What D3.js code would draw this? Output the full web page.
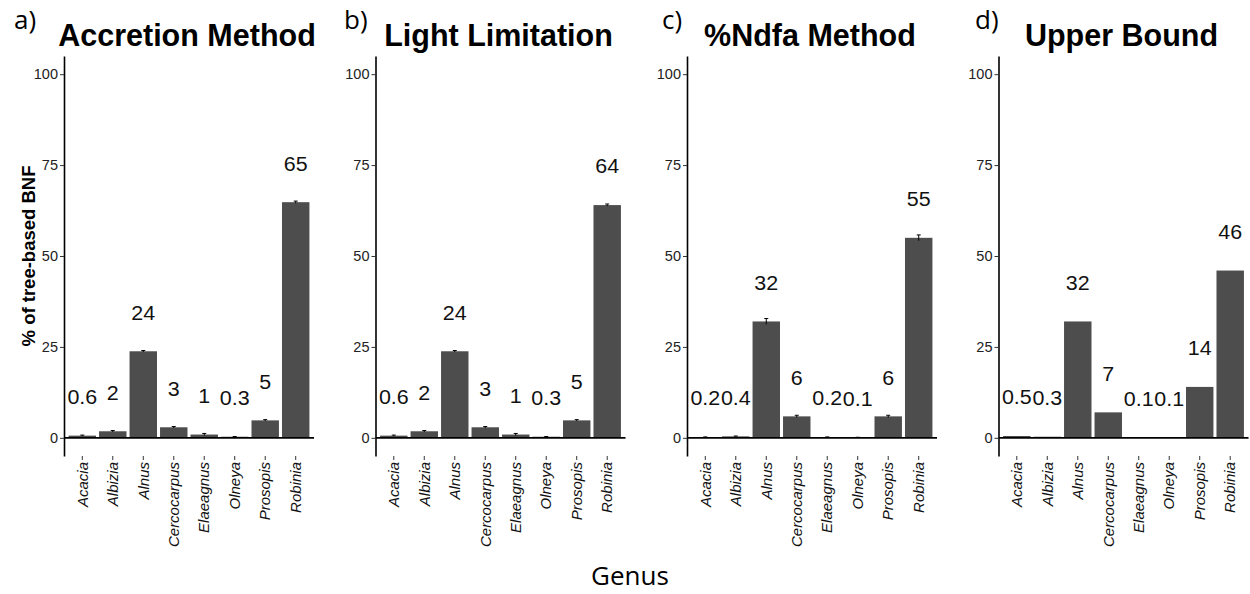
<!DOCTYPE html>
<html>
<head>
<meta charset="utf-8">
<script src="https://cdn.jsdelivr.net/npm/d3@7"></script>
<style>
  body { margin: 0; background: #fff; }
  svg { display: block; }
</style>
</head>
<body>
<div id="chart"></div>
<script>
"use strict";

// Data
const genera = ["Acacia", "Albizia", "Alnus", "Cercocarpus", "Elaeagnus", "Olneya", "Prosopis", "Robinia"];
const panelTags = ["a)", "b)", "c)", "d)"];
const panelTitles = ["Accretion Method", "Light Limitation", "%Ndfa Method", "Upper Bound"];
const yTicks = [0, 25, 50, 75, 100];

const accretionValues = [0.6, 1.8, 23.8, 2.9, 0.9, 0.3, 4.8, 64.8];
const accretionErrors = [0.15, 0.2, 0.2, 0.2, 0.3, 0.05, 0.2, 0.3];
const accretionLabels = ["0.6", "2", "24", "3", "1", "0.3", "5", "65"];

const lightValues = [0.6, 1.8, 23.8, 2.9, 0.9, 0.3, 4.8, 64.0];
const lightErrors = [0.15, 0.2, 0.2, 0.2, 0.3, 0.05, 0.2, 0.3];
const lightLabels = ["0.6", "2", "24", "3", "1", "0.3", "5", "64"];

const ndfaValues = [0.2, 0.4, 32.0, 5.9, 0.2, 0.1, 5.9, 55.0];
const ndfaErrors = [0.05, 0.1, 0.8, 0.3, 0.05, 0.05, 0.3, 0.8];
const ndfaLabels = ["0.2", "0.4", "32", "6", "0.2", "0.1", "6", "55"];

const upperValues = [0.5, 0.3, 32.0, 7.0, 0.1, 0.1, 14.0, 46.0];
const upperErrors = [0, 0, 0, 0, 0, 0, 0, 0];
const upperLabels = ["0.5", "0.3", "32", "7", "0.1", "0.1", "14", "46"];

const panelValues = [accretionValues, lightValues, ndfaValues, upperValues];
const panelErrors = [accretionErrors, lightErrors, ndfaErrors, upperErrors];
const panelLabels = [accretionLabels, lightLabels, ndfaLabels, upperLabels];

// Layout
const W = 1250, H = 594;
const PANEL_X0 = 64;
const PANEL_STEP = 311.5;
const PANEL_W = 250;
const PANEL_TOP = 56;
const PANEL_BOTTOM = 456;
const TAG_X = [14, 344, 662, 975];
const BAR_COLOR = "#4d4d4d";
const SANS = "'Liberation Sans', Arial, sans-serif";
const OPEN = "'Open Sans', 'Noto Sans', sans-serif";

var svg = d3.select("#chart").append("svg")
    .attr("width", W)
    .attr("height", H);

var y = d3.scaleLinear().domain([-5, 105]).range([PANEL_BOTTOM, PANEL_TOP]);

panelTitles.forEach(function (title, i) {

    var x0 = PANEL_X0 + i * PANEL_STEP;
    var g = svg.append("g").attr("transform", "translate(" + x0 + ",0)");

    var x = d3.scaleBand()
        .domain(genera)
        .range([0, PANEL_W])
        .paddingInner(0.1)
        .paddingOuter(0.15);

    var rows = genera.map(function (name, k) {
        return { name: name, value: panelValues[i][k], err: panelErrors[i][k], label: panelLabels[i][k] };
    });

    // bars
    g.selectAll("rect.bar")
        .data(rows)
        .enter().append("rect")
        .attr("class", "bar")
        .attr("x", function (d) { return x(d.name); })
        .attr("width", x.bandwidth())
        .attr("y", function (d) { return y(d.value); })
        .attr("height", function (d) { return y(0) - y(d.value); })
        .attr("fill", BAR_COLOR);

    // error bars
    var eb = g.selectAll("g.err")
        .data(rows.filter(function (d) { return d.err > 0; }))
        .enter().append("g")
        .attr("class", "err")
        .attr("stroke", "#000")
        .attr("stroke-width", 1);
    eb.append("line")
        .attr("x1", function (d) { return x(d.name) + x.bandwidth() / 2; })
        .attr("x2", function (d) { return x(d.name) + x.bandwidth() / 2; })
        .attr("y1", function (d) { return y(d.value + d.err); })
        .attr("y2", function (d) { return y(d.value - d.err); });
    eb.append("line")
        .attr("x1", function (d) { return x(d.name) + x.bandwidth() / 2 - 2; })
        .attr("x2", function (d) { return x(d.name) + x.bandwidth() / 2 + 2; })
        .attr("y1", function (d) { return y(d.value + d.err); })
        .attr("y2", function (d) { return y(d.value + d.err); });

    // value labels (slightly wide, like the original)
    g.selectAll("text.val")
        .data(rows)
        .enter().append("text")
        .attr("class", "val")
        .attr("transform", function (d) {
            return "translate(" + (x(d.name) + x.bandwidth() / 2) + "," + (y(d.value + 10.6) + 6.9) + ")scale(1.1,1)";
        })
        .attr("text-anchor", "middle")
        .attr("font-family", SANS)
        .attr("font-size", "19.5px")
        .attr("fill", "#111")
        .text(function (d) { return d.label; });

    // zero line
    g.append("line")
        .attr("x1", 0).attr("x2", PANEL_W)
        .attr("y1", y(0)).attr("y2", y(0))
        .attr("stroke", "#000")
        .attr("stroke-width", 1.7);

    // y axis
    var yAxis = d3.axisLeft(y).tickValues(yTicks).tickSize(4).tickSizeOuter(0).tickPadding(2);
    var ya = g.append("g").call(yAxis);
    ya.select(".domain").attr("stroke", "#000").attr("stroke-width", 1.6);
    ya.selectAll(".tick line").attr("stroke", "#333");
    ya.selectAll(".tick text")
        .attr("font-family", SANS)
        .attr("font-size", "14.5px")
        .attr("fill", "#222");

    // x axis
    var xAxis = d3.axisBottom(x).tickSize(4).tickSizeOuter(0).tickPadding(2);
    var xa = g.append("g")
        .attr("transform", "translate(0," + PANEL_BOTTOM + ")")
        .call(xAxis);
    xa.select(".domain").remove();
    xa.selectAll(".tick line").attr("stroke", "#333");
    xa.selectAll(".tick text")
        .attr("font-family", SANS)
        .attr("font-size", "15px")
        .attr("font-style", "italic")
        .attr("fill", "#111")
        .attr("text-anchor", "end")
        .attr("dy", "0.35em")
        .attr("transform", "translate(0,6)rotate(-90)")
        .attr("x", 0)
        .attr("y", 0);

    // title
    svg.append("text")
        .attr("x", x0 + PANEL_W / 2 - 2)
        .attr("y", 46)
        .attr("text-anchor", "middle")
        .attr("font-family", SANS)
        .attr("font-weight", "bold")
        .attr("font-size", "30.5px")
        .attr("fill", "#000")
        .text(title);

    // panel tag
    svg.append("text")
        .attr("x", TAG_X[i])
        .attr("y", 29)
        .attr("font-family", OPEN)
        .attr("font-size", "26px")
        .attr("fill", "#000")
        .text(panelTags[i]);
});

// y axis title
svg.append("text")
    .attr("transform", "translate(35," + ((PANEL_TOP + PANEL_BOTTOM) / 2) + ")rotate(-90)")
    .attr("text-anchor", "middle")
    .attr("font-family", SANS)
    .attr("font-weight", "bold")
    .attr("font-size", "18.5px")
    .attr("fill", "#000")
    .text("% of tree-based BNF");

// x axis title
svg.append("text")
    .attr("x", 630)
    .attr("y", 585)
    .attr("text-anchor", "middle")
    .attr("font-family", OPEN)
    .attr("font-size", "26px")
    .attr("fill", "#000")
    .text("Genus");
</script>
</body>
</html>
